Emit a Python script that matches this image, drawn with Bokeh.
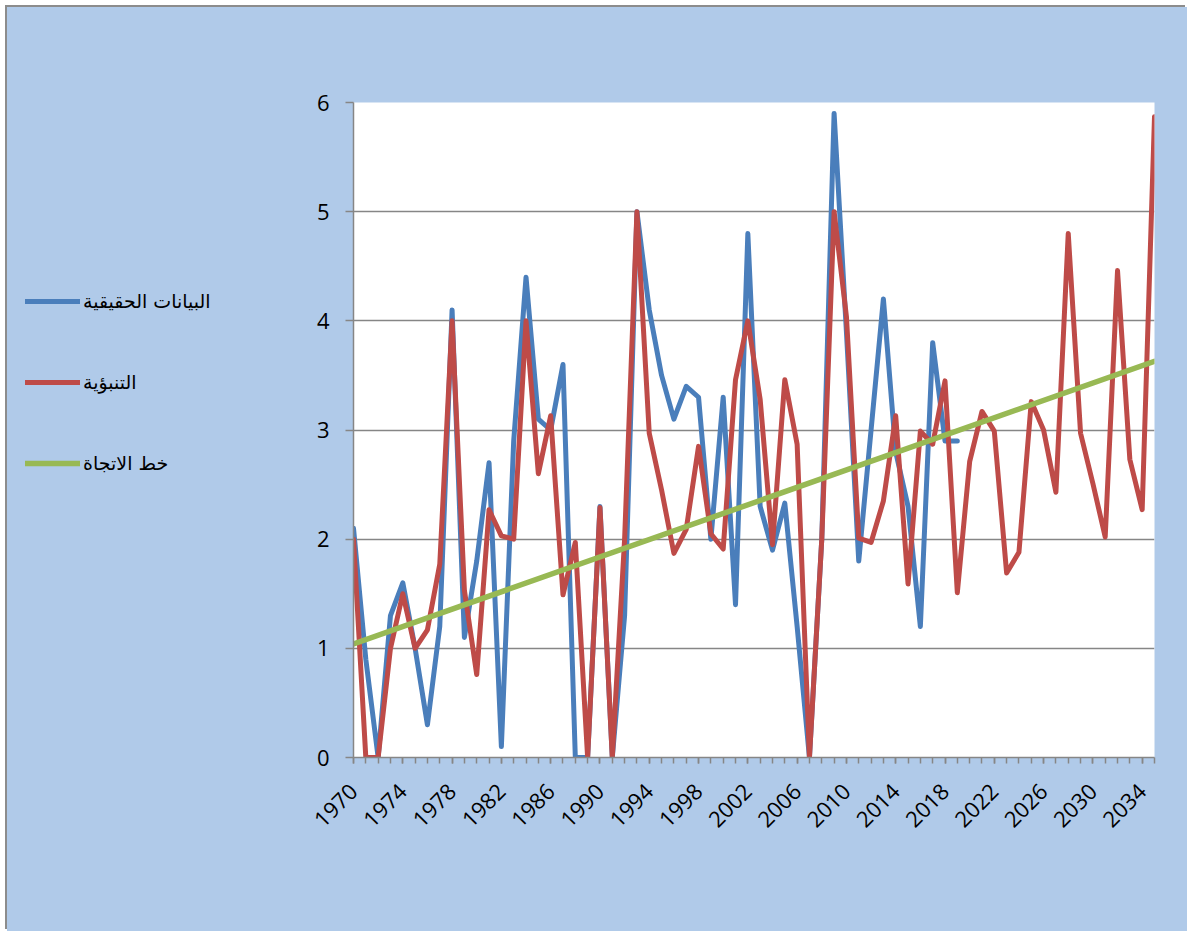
import math

from bokeh.plotting import figure
from bokeh.layouts import row
from bokeh.models import Range1d, FixedTicker, Legend, LegendItem
from bokeh.embed import file_html
from bokeh.resources import INLINE

# Category axis: one point per year
years = list(range(1970, 2036))

# Observed values, 1970-2019
actual_years = list(range(1970, 2020))
actual = [
    2.1, 0.9, 0.0, 1.3, 1.6, 1.0, 0.3, 1.2, 4.1, 1.1,
    1.8, 2.7, 0.1, 2.9, 4.4, 3.1, 3.0, 3.6, 0.0, 0.0,
    2.3, 0.0, 1.3, 5.0, 4.1, 3.5, 3.1, 3.4, 3.3, 2.0,
    3.3, 1.4, 4.8, 2.3, 1.9, 2.33, 1.2, 0.0, 2.0, 5.9,
    3.9, 1.8, 3.0, 4.2, 2.8, 2.3, 1.2, 3.8, 2.9, 2.9,
]

# Forecast values, 1970-2035
forecast = [
    2.0, 0.0, 0.0, 1.0, 1.5, 1.0, 1.17, 1.77, 4.0, 1.53,
    0.76, 2.27, 2.03, 2.0, 4.0, 2.6, 3.13, 1.49, 1.97, 0.0,
    2.29, 0.0, 2.0, 5.0, 2.97, 2.45, 1.87, 2.09, 2.85, 2.05,
    1.91, 3.46, 4.0, 3.28, 1.95, 3.46, 2.87, 0.0, 2.0, 5.0,
    4.04, 2.01, 1.97, 2.35, 3.13, 1.59, 2.99, 2.87, 3.45, 1.51,
    2.71, 3.17, 2.99, 1.69, 1.88, 3.26, 3.0, 2.43, 4.8, 2.97,
    2.51, 2.02, 4.46, 2.73, 2.27, 5.87,
]

# Linear trend, given at its two ends
trend_years = [1970, 2035]
trend_values = [1.04, 3.63]

tick_years = list(range(1970, 2035, 4))
y_ticks = [0, 1, 2, 3, 4, 5, 6]
series_names = ["البيانات الحقيقية", "التنبؤية", "خط الاتجاة"]

BG = "#B0CAE9"
GRID = "#868686"
BLUE = "#4A7EBB"
RED = "#BE4B48"
GREEN = "#98B954"
FONT = "Open Sans"

LEG_W = 266      # width of the legend column
HEIGHT = 924

# ---- main chart -------------------------------------------------------
p = figure(
    width=1180 - LEG_W, height=HEIGHT,
    x_range=Range1d(1970, 2035), y_range=Range1d(0, 6),
    output_backend="svg", toolbar_location=None,
    min_border_left=80, min_border_right=33,
    min_border_top=95, min_border_bottom=174,
    background_fill_color="white", border_fill_color=BG,
    outline_line_color=None,
)

# x axis: a tick at every year, a label every fourth year
xa = p.xaxis[0]
xa.ticker = FixedTicker(ticks=tick_years, minor_ticks=years)
xa.major_label_orientation = math.pi / 4
xa.major_tick_in = 0
xa.major_tick_out = 6
xa.minor_tick_in = 0
xa.minor_tick_out = 6
xa.axis_line_color = GRID
xa.axis_line_width = 1.5
xa.major_tick_line_color = GRID
xa.major_tick_line_width = 1.5
xa.minor_tick_line_color = GRID
xa.minor_tick_line_width = 1.5
xa.major_label_text_font = FONT
xa.major_label_text_font_size = "22px"
xa.major_label_text_color = "black"
xa.major_label_standoff = 24

ya = p.yaxis[0]
ya.ticker = FixedTicker(ticks=y_ticks)
ya.major_tick_in = 0
ya.major_tick_out = 8
ya.minor_tick_line_color = None
ya.axis_line_color = GRID
ya.axis_line_width = 1.5
ya.major_tick_line_color = GRID
ya.major_tick_line_width = 1.5
ya.major_label_text_font = FONT
ya.major_label_text_font_size = "22px"
ya.major_label_text_color = "black"
ya.major_label_standoff = 16

p.xgrid.visible = False
p.ygrid.grid_line_color = GRID
p.ygrid.grid_line_width = 1.5

line_styles = [
    dict(line_color=BLUE, line_width=5, line_join="round", line_cap="round"),
    dict(line_color=RED, line_width=5, line_join="round", line_cap="round"),
    dict(line_color=GREEN, line_width=5.5, line_cap="round"),
]

p.line(actual_years, actual, **line_styles[0])
p.line(years, forecast, **line_styles[1])
p.line(trend_years, trend_values, **line_styles[2])

# ---- legend column ----------------------------------------------------
leg = figure(
    width=LEG_W, height=HEIGHT,
    x_axis_type=None, y_axis_type=None,
    output_backend="svg", toolbar_location=None,
    min_border=0, background_fill_color=None, border_fill_color=BG,
    outline_line_color=None,
)
leg.grid.visible = False
# key samples only: a single empty point each, so nothing is plotted
samples = [leg.line([float("nan")], [float("nan")], **style) for style in line_styles]

legend = Legend(
    items=[LegendItem(label=name, renderers=[r])
           for name, r in zip(series_names, samples)],
    location=(18, 282),
    orientation="vertical",
    glyph_width=55, glyph_height=24, label_height=24,
    spacing=57, padding=0, margin=0, label_standoff=3,
    border_line_color=None, background_fill_alpha=0,
    label_text_font="DejaVu Sans", label_text_font_size="19px",
    label_text_color="black",
)
leg.add_layout(legend)

page = row(leg, p, spacing=0)
page.margin = (7, 0, 0, 7)
page.styles = {"background-color": BG, "box-shadow": "-2px -2px 0 0 #8C8C8C"}

open("out.html", "w").write(file_html(page, INLINE))
